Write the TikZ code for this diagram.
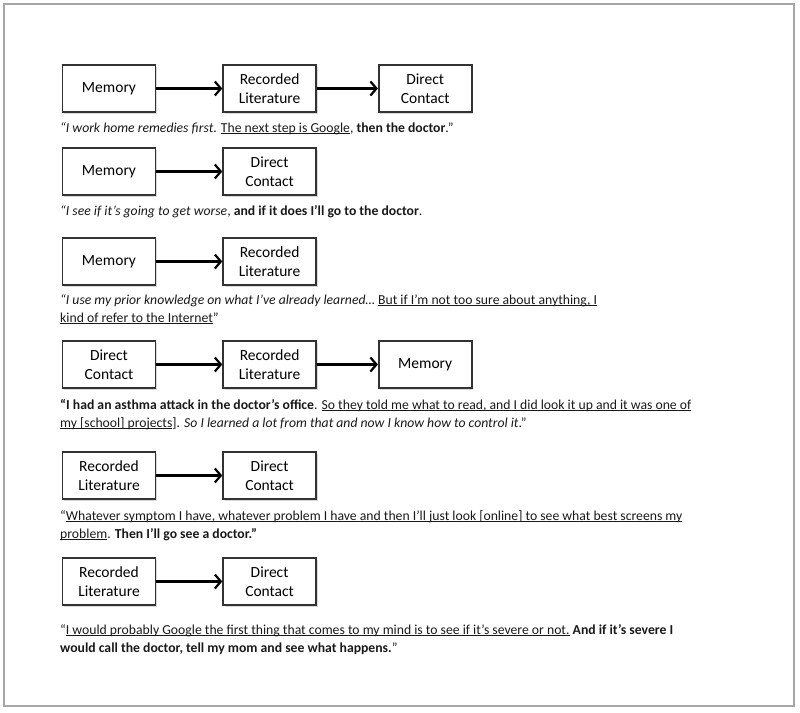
\documentclass[tikz,border=0pt]{standalone}
\usepackage{fontspec}
\setmainfont{Carlito}
\usetikzlibrary{arrows.meta}
\usetikzlibrary{positioning}
\usetikzlibrary{shadows}
\newcommand{\ulq}[1]{\underline{\smash{#1}}}
\tikzset{
    stage/.style={draw=black!80, line width=1.6pt, fill=white, align=center,
        minimum width=93pt, minimum height=47pt, inner sep=2pt,
        font=\fontsize{15.5}{19}\selectfont,
        drop shadow={opacity=.3, shadow xshift=1.5pt, shadow yshift=-1.5pt}},
    flow/.style={draw=black, line width=2.2pt, -{Straight Barb[length=6pt,width=14pt]}},
    quote/.style={anchor=base west, inner sep=0pt, text=black!90,
        font=\fontsize{13.7}{18}\selectfont},
}

\begin{document}
\begin{tikzpicture}[x=1pt, y=-1pt]
	\useasboundingbox (0,0) rectangle (800,712);
	\draw[gray!70, line width=1.5pt] (4,4) rectangle (794,706);
	% memory -> literature -> contact
	\node[stage] (mem1) at (109,88.5) {Memory};
	\node[stage, right=66pt of mem1] (lit1) {Recorded\\Literature};
	\node[stage, right=61pt of lit1] (dir1) {Direct\\Contact};
	\draw[flow] (mem1) -- (lit1);
	\draw[flow] (lit1) -- (dir1);
	\node[quote] (q1) at (60,132) {\textit{“I work home remedies first}. \ulq{The next step is Google}, \textbf{then the doctor}.”};
	% memory -> contact
	\node[stage] (mem2) at (109,171.5) {Memory};
	\node[stage, right=66pt of mem2] (dir2) {Direct\\Contact};
	\draw[flow] (mem2) -- (dir2);
	\node[quote] (q2) at (60,215) {\textit{“I see if it’s going to get worse}, \textbf{and if it does I’ll go to the doctor}.};
	% memory -> literature
	\node[stage] (mem3) at (109,261.5) {Memory};
	\node[stage, right=66pt of mem3] (lit3) {Recorded\\Literature};
	\draw[flow] (mem3) -- (lit3);
	\node[quote] (q3a) at (60,304) {\textit{“I use my prior knowledge on what I’ve already learned…} \ulq{But if I’m not too sure about anything, I}};
	\node[quote] (q3b) at (60,322) {\ulq{kind of refer to the Internet}”};
	% contact -> literature -> memory
	\node[stage] (dir4) at (109,364.5) {Direct\\Contact};
	\node[stage, right=66pt of dir4] (lit4) {Recorded\\Literature};
	\node[stage, right=61pt of lit4] (mem4) {Memory};
	\draw[flow] (dir4) -- (lit4);
	\draw[flow] (lit4) -- (mem4);
	\node[quote] (q4a) at (60,409) {\textbf{“I had an asthma attack in the doctor’s office}. \ulq{So they told me what to read, and I did look it up and it was one of}};
	\node[quote] (q4b) at (60,427) {\ulq{my [school] projects}]. \textit{So I learned a lot from that and now I know how to control it}.”};
	% literature -> contact
	\node[stage] (lit5) at (109,475.5) {Recorded\\Literature};
	\node[stage, right=66pt of lit5] (dir5) {Direct\\Contact};
	\draw[flow] (lit5) -- (dir5);
	\node[quote] (q5a) at (60,520) {“\ulq{Whatever symptom I have, whatever problem I have and then I’ll just look [online] to see what best screens my}};
	\node[quote] (q5b) at (60,538) {\ulq{problem}. \textbf{Then I’ll go see a doctor.”}};
	% literature -> contact
	\node[stage] (lit6) at (109,581.5) {Recorded\\Literature};
	\node[stage, right=66pt of lit6] (dir6) {Direct\\Contact};
	\draw[flow] (lit6) -- (dir6);
	\node[quote] (q6a) at (60,634) {“\ulq{I would probably Google the first thing that comes to my mind is to see if it’s severe or not.} \textbf{And if it’s severe I}};
	\node[quote] (q6b) at (60,652) {\textbf{would call the doctor, tell my mom and see what happens.}”};
\end{tikzpicture}
\end{document}
